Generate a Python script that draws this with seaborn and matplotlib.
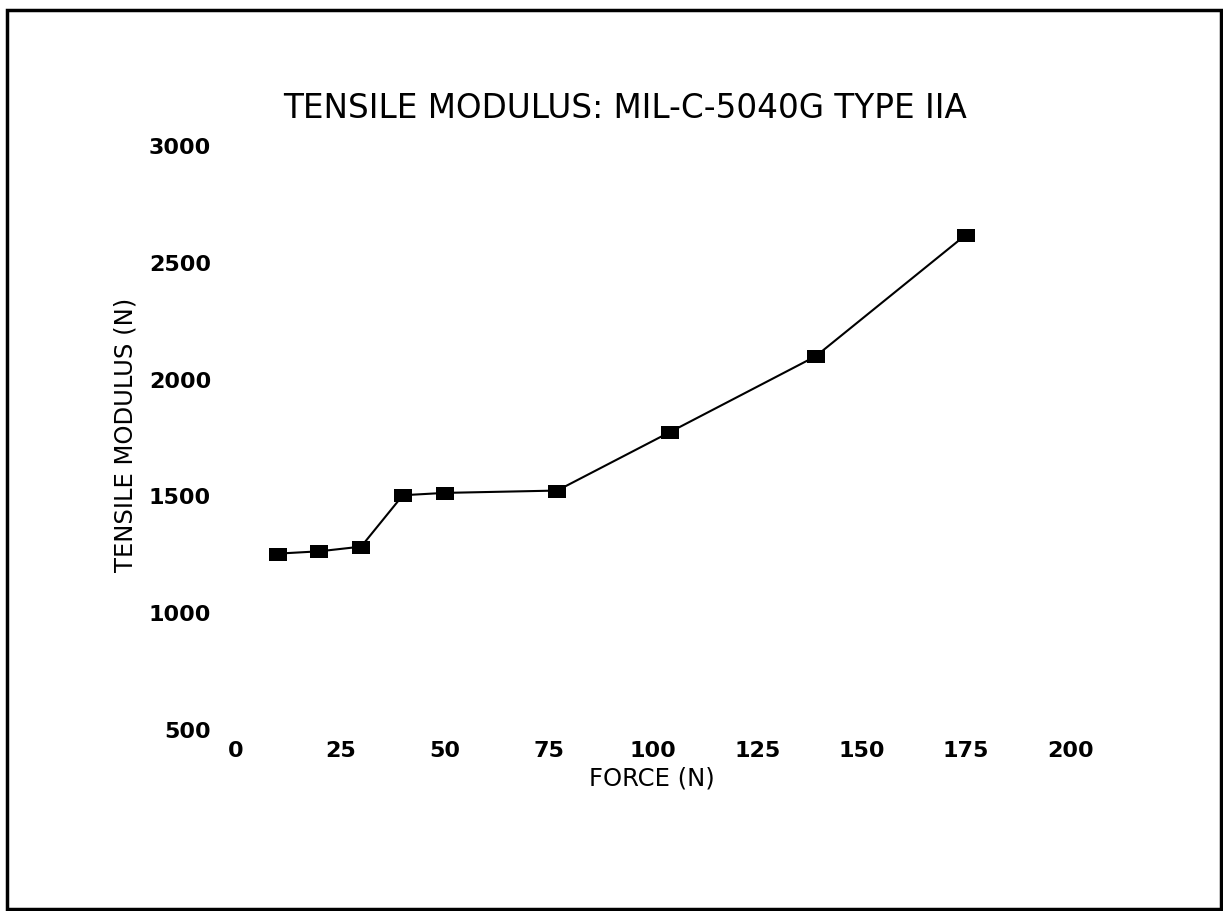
import seaborn as sns
import pandas as pd
import matplotlib.pyplot as plt
from matplotlib.path import Path

sns.set_style("white")
plt.rcParams['font.family'] = ['DejaVu Sans']
plt.rcParams['text.color'] = 'black'
plt.rcParams['axes.labelcolor'] = 'black'
plt.rcParams['xtick.color'] = 'black'
plt.rcParams['ytick.color'] = 'black'

force = [10, 20, 30, 40, 50, 77, 104, 139, 175]
modulus = [1255, 1265, 1285, 1505, 1515, 1525, 1775, 2100, 2620]
x_ticks = [0, 25, 50, 75, 100, 125, 150, 175, 200]
y_ticks = [500, 1000, 1500, 2000, 2500, 3000]

data = pd.DataFrame({"force": force, "modulus": modulus})

# wide flat square, like the plotter's marker
box = Path([(-1, -0.72), (1, -0.72), (1, 0.72), (-1, 0.72), (-1, -0.72)],
           [Path.MOVETO, Path.LINETO, Path.LINETO, Path.LINETO, Path.CLOSEPOLY])

fig = plt.figure(figsize=(12.23, 9.11), dpi=100)
ax = fig.add_axes([0.193, 0.1987, 0.682, 0.641])

sns.lineplot(data=data, x="force", y="modulus", ax=ax, color="black",
             linewidth=1.5, marker=box, markersize=13, markeredgewidth=0,
             markerfacecolor="black")

ax.set_xlim(0, 200)
ax.set_ylim(500, 3000)
ax.set_xticks(x_ticks)
ax.set_yticks(y_ticks)
ax.tick_params(axis="both", length=0, labelsize=16)
ax.tick_params(axis="x", pad=8)
ax.tick_params(axis="y", pad=18)
for lab in ax.get_xticklabels() + ax.get_yticklabels():
    lab.set_fontweight("bold")
sns.despine(ax=ax, left=True, bottom=True)

ax.set_xlabel("FORCE (N)", fontsize=17.5, va="top")
ax.xaxis.set_label_coords(0.499, -0.062)
ax.set_ylabel("TENSILE MODULUS (N)", fontsize=17.5, va="center")
ax.yaxis.set_label_coords(-0.132, 0.505)

fig.text(283 / 1223, 1 - 118 / 911, "TENSILE MODULUS: MIL-C-5040G TYPE IIA",
         fontsize=23.5, ha="left", va="baseline")

# frame round the whole page
fig.patches.append(plt.Rectangle((7 / 1223, 2 / 911), 1214 / 1223, 899 / 911,
                                 transform=fig.transFigure, fill=False,
                                 edgecolor="black", linewidth=2.5))

fig.savefig("out.png", dpi=100)
